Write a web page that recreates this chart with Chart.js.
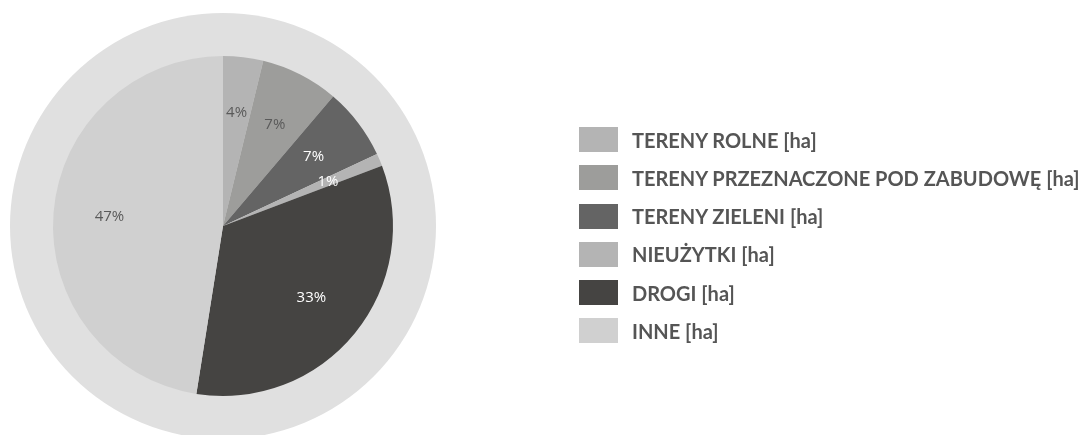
<!DOCTYPE html>
<html>
<head>
<meta charset="utf-8">
<script src="https://cdn.jsdelivr.net/npm/chart.js@4"></script>
<style>
  html, body { margin: 0; padding: 0; background: #fff; }
  #wrap { position: relative; width: 1091px; height: 435px; overflow: hidden; }
  #pie { position: absolute; left: 0; top: 0; }
  #legend { position: absolute; left: 579px; top: 127px; font-family: Lato, sans-serif; font-weight: bold; font-size: 20px; color: #555; }
  .item { display: flex; align-items: center; height: 25px; margin-bottom: 13.3px; white-space: nowrap; }
  .box { width: 39px; height: 25px; margin-right: 14px; }
</style>
</head>
<body>
<div id="wrap">
  <canvas id="pie" width="1091" height="435"></canvas>
  <div id="legend"></div>
</div>
<script>
// area in ha
var labels = ["TERENY ROLNE [ha]", "TERENY PRZEZNACZONE POD ZABUDOWĘ [ha]", "TERENY ZIELENI [ha]", "NIEUŻYTKI [ha]", "DROGI [ha]", "INNE [ha]"];
var values = [3.8, 7.4, 6.8, 1.2, 33.2, 47.4];
var colors = ["#b4b4b4", "#9d9d9b", "#646464", "#b4b4b4", "#454442", "#d0d0d0"];
var labelColors = ["#5a5a5a", "#5a5a5a", "#ffffff", "#ffffff", "#ffffff", "#5a5a5a"];

var total = values.reduce(function (a, b) { return a + b; }, 0);

// light ring behind the pie
var ringPlugin = {
  id: 'ring',
  beforeDatasetsDraw: function (chart) {
    var arc = chart.getDatasetMeta(0).data[0];
    var ctx = chart.ctx;
    ctx.save();
    ctx.beginPath();
    ctx.arc(arc.x, arc.y, arc.outerRadius * 213 / 170, 0, Math.PI * 2);
    ctx.fillStyle = '#e0e0e0';
    ctx.fill();
    ctx.restore();
  }
};

// percent labels inside slices
var pctPlugin = {
  id: 'pct',
  afterDatasetsDraw: function (chart) {
    var ctx = chart.ctx;
    var meta = chart.getDatasetMeta(0);
    ctx.save();
    ctx.font = '15px "Open Sans", sans-serif';
    ctx.textAlign = 'center';
    ctx.textBaseline = 'middle';
    meta.data.forEach(function (arc, i) {
      var mid = (arc.startAngle + arc.endAngle) / 2;
      var r = arc.outerRadius * 0.67;
      ctx.fillStyle = labelColors[i];
      ctx.fillText(Math.round(values[i] / total * 100) + '%', arc.x + Math.cos(mid) * r, arc.y + Math.sin(mid) * r);
    });
    ctx.restore();
  }
};

new Chart(document.getElementById('pie'), {
  type: 'pie',
  data: {
    labels: labels,
    datasets: [{
      data: values,
      backgroundColor: colors,
      borderWidth: 0
    }]
  },
  options: {
    responsive: false,
    animation: false,
    layout: { padding: { left: 53, top: 56, right: 698, bottom: 39 } },
    plugins: {
      legend: { display: false },
      tooltip: { enabled: false }
    }
  },
  plugins: [ringPlugin, pctPlugin]
});

var legend = document.getElementById('legend');
labels.forEach(function (l, i) {
  var row = document.createElement('div');
  row.className = 'item';
  var box = document.createElement('span');
  box.className = 'box';
  box.style.background = colors[i];
  var txt = document.createElement('span');
  txt.textContent = l;
  row.appendChild(box);
  row.appendChild(txt);
  legend.appendChild(row);
});
</script>
</body>
</html>
